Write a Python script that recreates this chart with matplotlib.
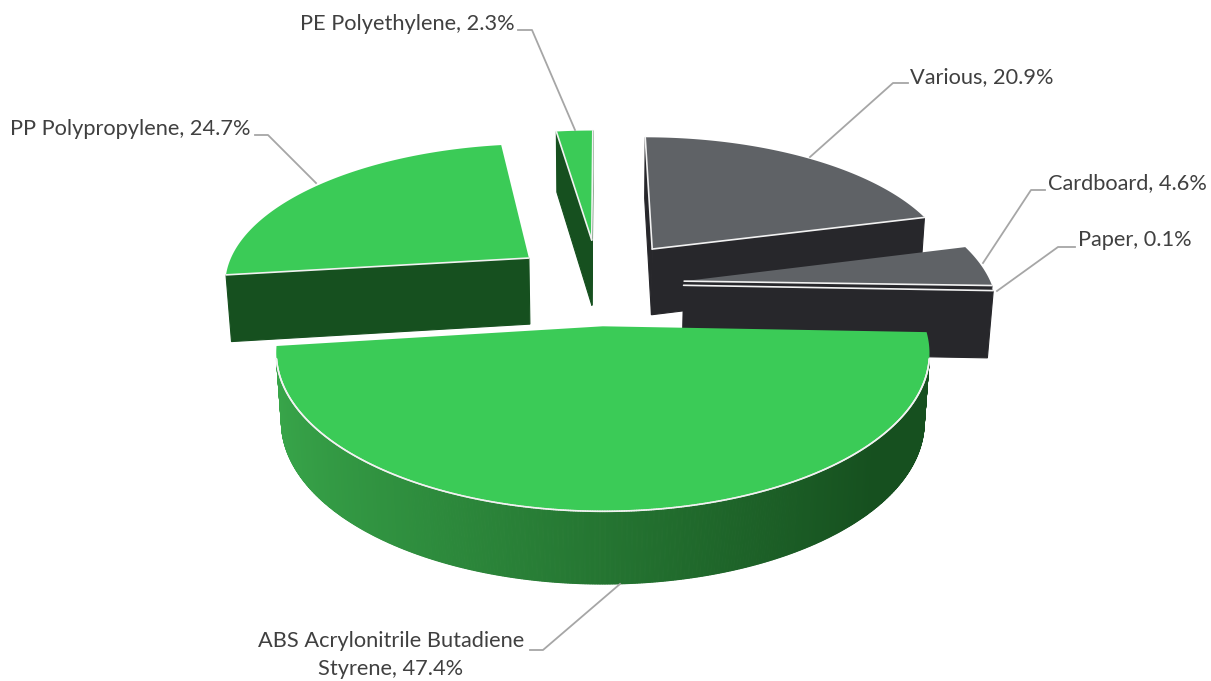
#!/usr/bin/python3
import matplotlib
matplotlib.use('Agg')
import matplotlib.pyplot as plt
import numpy as np

# chart data, in the clockwise order of the pie starting from the top
labels = ["Various", "Cardboard", "Paper", "ABS Acrylonitrile Butadiene\nStyrene", "PP Polypropylene", "PE Polyethylene"]
shares = [20.9, 4.6, 0.1, 47.4, 24.7, 2.3]
top_colors = ["#5F6266", "#5F6266", "#27272B", "#3BCB57", "#3BCB57", "#3BCB57"]
side_colors = ["#27272B", "#27272B", "#27272B", "#16501F", "#16501F", "#16501F"]
draw_order = [5, 0, 4, 1, 2, 3]

# how far each slice is pulled out, plus a small correction in disc units
explode = [0.295, 0.31, 0.31, 0.31, 0.31, 0.31]
nudge = [(-0.003, -0.005), (-0.033, 0.036), (-0.038, 0.02), (-0.005, 0), (0.008, 0.018), (-0.006, 0)]

# label text position (x, y, ha) and leader line points
label_pos = [(910, 77, "left"), (1048, 183, "left"), (1078, 240, "left"),
             (391, 655, "center"), (250, 129, "right"), (515, 24, "right")]
leaders = [[(908, 83), (893, 83), (810, 157)],
           [(1045, 190), (1031, 190), (983, 263)],
           [(1075, 247), (1058, 247), (997, 291)],
           [(530, 650), (543, 650), (620, 584)],
           [(255, 135), (268, 135), (316, 183)],
           [(518, 30), (532, 30), (575, 130)]]

# projection of the pie: disc coordinates + depth to pixels
CX, CY, R, C, H = 600, 281, 306, 139, 69.6
K, M, MX = 0.16, 0.04, 0.015


def project(u, v, z):
    sx = 1 / (1 - K * v + MX * z)
    sy = 1 / (1 - K * v + M * z)
    return CX + R * u * sx, CY + (C * v + H * z) * sy


def facing(p, q, p2, q2):
    # quad signed area in y-down pixels, negative means it looks at us
    pts = [p, q, q2, p2]
    area = 0
    for i in range(4):
        a, b = pts[i], pts[(i + 1) % 4]
        area += a[0] * b[1] - b[0] * a[1]
    return area < 0


def rim_shade(color, cos_t):
    # the rim of the green slice gets lighter to the left
    if color != "#16501F":
        return color
    dark = np.array([0x16, 0x50, 0x1F]) / 255
    light = np.array([0x38, 0xA6, 0x4A]) / 255
    t = np.clip((0.75 - cos_t) / 1.75, 0, 1)
    return tuple(dark + (light - dark) * t)


def draw_slice(ax, start, end, top, side, pull, shift):
    mid = np.radians((start + end) / 2)
    ox = pull * np.cos(mid) + shift[0]
    oy = pull * np.sin(mid) + shift[1]
    n = max(2, int(end - start) * 4)
    thetas = np.radians(np.linspace(start, end, n))
    disc = [(ox, oy)] + [(ox + np.cos(t), oy + np.sin(t)) for t in thetas]
    upper = [project(u, v, 0) for u, v in disc]
    lower = [project(u, v, 1) for u, v in disc]
    edges = []
    for i in range(len(upper)):
        j = (i + 1) % len(upper)
        if facing(upper[i], upper[j], lower[i], lower[j]):
            is_rim = 1 <= i < len(upper) - 1
            col = rim_shade(side, np.cos(thetas[i - 1])) if is_rim else side
            quad = [upper[i], upper[j], lower[j], lower[i]]
            ax.fill(*zip(*quad), color=col, lw=0.8, zorder=2)
            edges.append((upper[i], upper[j]))
    ax.fill(*zip(*upper), color=top, lw=0, zorder=2)
    for a, b in edges:
        ax.plot([a[0], b[0]], [a[1], b[1]], color="#F2F2F2", lw=1.2,
                solid_capstyle="round", zorder=2)


def main():
    fig = plt.figure(figsize=(12.11, 6.81), dpi=100)
    ax = fig.add_axes([0, 0, 1, 1])
    ax.set_xlim(0, 1211)
    ax.set_ylim(681, 0)
    ax.axis("off")

    edges = -90 + np.cumsum([0] + shares) * 3.6
    for i in draw_order:
        draw_slice(ax, edges[i], edges[i + 1], top_colors[i], side_colors[i],
                   explode[i], nudge[i])

    for i, name in enumerate(labels):
        x, y, ha = label_pos[i]
        ax.text(x, y, "%s, %.1f%%" % (name, shares[i]), ha=ha, va="center",
                family="Lato", fontsize=15.7, color="#404040", linespacing=1.47,
                multialignment="center")
        ax.plot(*zip(*leaders[i]), color="#A6A6A6", lw=1.3, zorder=3)

    plt.savefig("out.png", dpi=100)


if __name__ == "__main__":
    main()
